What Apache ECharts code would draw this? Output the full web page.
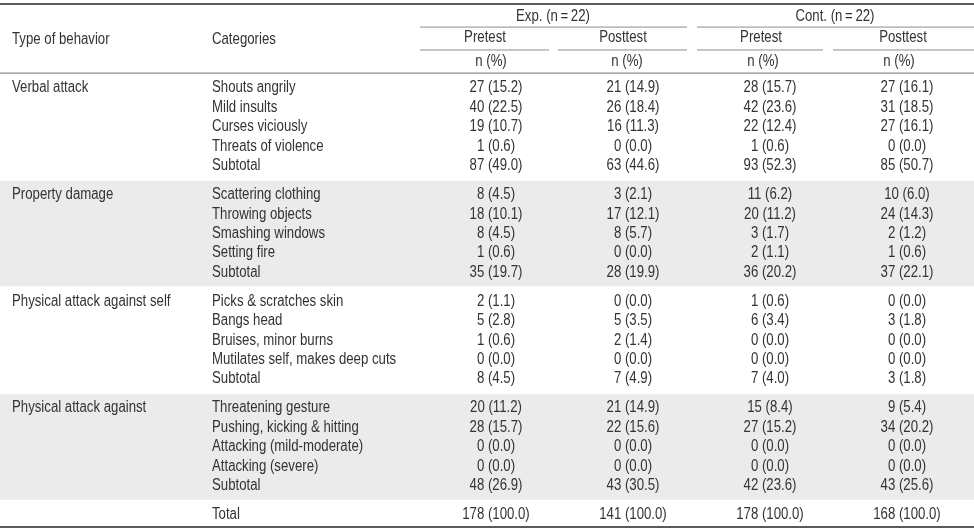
<!DOCTYPE html>
<html>
<head>
<meta charset="utf-8">
<script src="https://cdn.jsdelivr.net/npm/echarts@6/dist/echarts.min.js"></script>
<style>html,body{margin:0;padding:0;background:#fff}#c{width:974px;height:532px}</style>
</head>
<body>
<div id="c"></div>
<script>
// ---------- DATA ----------
const behaviorTypes = ['Verbal attack', 'Property damage', 'Physical attack against self', 'Physical attack against'];
const categories = [
  ['Shouts angrily', 'Mild insults', 'Curses viciously', 'Threats of violence', 'Subtotal'],
  ['Scattering clothing', 'Throwing objects', 'Smashing windows', 'Setting fire', 'Subtotal'],
  ['Picks & scratches skin', 'Bangs head', 'Bruises, minor burns', 'Mutilates self, makes deep cuts', 'Subtotal'],
  ['Threatening gesture', 'Pushing, kicking & hitting', 'Attacking (mild-moderate)', 'Attacking (severe)', 'Subtotal']
];
const totalLabel = 'Total';
const groupHeaders = ['Exp. (n\u2009=\u200922)', 'Cont. (n\u2009=\u200922)'];
const timeHeaders = ['Pretest', 'Posttest', 'Pretest', 'Posttest'];
const unitHeader = 'n (%)';
const colHeaders = ['Type of behavior', 'Categories'];

// rows: 4 sections x 5 rows, then Total
const expPreN   = [27,40,19,1,87,  8,18,8,1,35,  2,5,1,0,8,  20,28,0,0,48, 178];
const expPrePct = [15.2,22.5,10.7,0.6,49.0, 4.5,10.1,4.5,0.6,19.7, 1.1,2.8,0.6,0.0,4.5, 11.2,15.7,0.0,0.0,26.9, 100.0];
const expPostN   = [21,26,16,0,63, 3,17,8,0,28, 0,5,2,0,7, 21,22,0,0,43, 141];
const expPostPct = [14.9,18.4,11.3,0.0,44.6, 2.1,12.1,5.7,0.0,19.9, 0.0,3.5,1.4,0.0,4.9, 14.9,15.6,0.0,0.0,30.5, 100.0];
const contPreN   = [28,42,22,1,93, 11,20,3,2,36, 1,6,0,0,7, 15,27,0,0,42, 178];
const contPrePct = [15.7,23.6,12.4,0.6,52.3, 6.2,11.2,1.7,1.1,20.2, 0.6,3.4,0.0,0.0,4.0, 8.4,15.2,0.0,0.0,23.6, 100.0];
const contPostN   = [27,31,27,0,85, 10,24,2,1,37, 0,3,0,0,3, 9,34,0,0,43, 168];
const contPostPct = [16.1,18.5,16.1,0.0,50.7, 6.0,14.3,1.2,0.6,22.1, 0.0,1.8,0.0,0.0,1.8, 5.4,20.2,0.0,0.0,25.6, 100.0];

// ---------- LAYOUT (axis units) ----------
const X_MAX = 974;
const Y_MIN = -4.536, Y_MAX = 22.887;      // row units
const TYPE_X = 12, CAT_X = 212;
const DATA_X = [496, 633, 770, 907];
const TIME_X = [485, 623, 761, 903];
const UNIT_X = [491, 627, 763, 899];
const GROUP_X = [553, 835];
const SECTION_GAP = 0.5;
const ROWS_PER_SECTION = 5;
const Y_GROUP = -3.66, Y_TIME = -2.58, Y_COLHDR = -2.47, Y_UNIT = -1.34;
const LINE_TOP = -4.33, LINE_GROUP = -3.14, LINE_TIME = -1.96, LINE_HEAD = -0.77, LINE_BOTTOM = 22.63;
const BAND_PAD = 0.72;
const GROUP_SPANS = [[420, 687], [697, 974]];
const TIME_SPANS = [[420, 549], [558, 687], [697, 823], [833, 974]];

const FONT = "16px 'Liberation Sans', Arial, sans-serif";
const TEXT_SCALE_X = 0.825;
const TEXT_COLOR = '#333';

function rowY(sec, r) { return sec * (ROWS_PER_SECTION + SECTION_GAP) + r; }

// ---------- build cells ----------
const cells = []; // [x, y, text, align]
colHeaders.forEach((t, i) => cells.push([i === 0 ? TYPE_X : CAT_X, Y_COLHDR, t, 'left']));
groupHeaders.forEach((t, i) => cells.push([GROUP_X[i], Y_GROUP, t, 'center']));
timeHeaders.forEach((t, i) => cells.push([TIME_X[i], Y_TIME, t, 'center']));
UNIT_X.forEach(x => cells.push([x, Y_UNIT, unitHeader, 'center']));
const cols = [[expPreN, expPrePct], [expPostN, expPostPct], [contPreN, contPrePct], [contPostN, contPostPct]];
let idx = 0;
categories.forEach((cats, s) => {
  cells.push([TYPE_X, rowY(s, 0), behaviorTypes[s], 'left']);
  cats.forEach((c, r) => {
    const y = rowY(s, r);
    cells.push([CAT_X, y, c, 'left']);
    cols.forEach((col, ci) => cells.push([DATA_X[ci], y, col[0][idx] + ' (' + col[1][idx].toFixed(1) + ')', 'center']));
    idx++;
  });
});
const totalY = rowY(categories.length, 0);
cells.push([CAT_X, totalY, totalLabel, 'left']);
cols.forEach((col, ci) => cells.push([DATA_X[ci], totalY, col[0][idx] + ' (' + col[1][idx].toFixed(1) + ')', 'center']));

// lines: [x1, x2, y, width, color]
const lines = [
  [0, X_MAX, LINE_TOP, 2, '#5a5a5a'],
  [0, X_MAX, LINE_HEAD, 1.2, '#8c8c8c'],
  [0, X_MAX, LINE_BOTTOM, 2, '#5a5a5a']
];
GROUP_SPANS.forEach(s => lines.push([s[0], s[1], LINE_GROUP, 1, '#8c8c8c']));
TIME_SPANS.forEach(s => lines.push([s[0], s[1], LINE_TIME, 1, '#8c8c8c']));

// bands for sections 2 and 4
const bands = [1, 3].map(s => [rowY(s, 0) - BAND_PAD, rowY(s, ROWS_PER_SECTION - 1) + BAND_PAD]);

const chart = echarts.init(document.getElementById('c'), null, { renderer: 'canvas' });
chart.setOption({
  animation: false,
  backgroundColor: '#fff',
  grid: { left: 0, right: 0, top: 0, bottom: 0 },
  xAxis: { type: 'value', min: 0, max: X_MAX, show: false },
  yAxis: { type: 'value', min: Y_MIN, max: Y_MAX, inverse: true, show: false },
  series: [
    {
      type: 'custom', silent: true, z: 1,
      data: bands,
      renderItem: (params, api) => {
        const a = api.coord([0, api.value(0)]);
        const b = api.coord([X_MAX, api.value(1)]);
        return { type: 'rect', shape: { x: a[0], y: a[1], width: b[0] - a[0], height: b[1] - a[1] }, style: { fill: '#ebebeb' } };
      }
    },
    {
      type: 'custom', silent: true, z: 2,
      data: lines.map(l => [l[0], l[1], l[2], l[3]]),
      renderItem: (params, api) => {
        const l = lines[params.dataIndex];
        const a = api.coord([l[0], l[2]]);
        const b = api.coord([l[1], l[2]]);
        return { type: 'line', shape: { x1: a[0], y1: a[1], x2: b[0], y2: b[1] }, style: { stroke: l[4], lineWidth: l[3] } };
      }
    },
    {
      type: 'custom', silent: true, z: 3,
      data: cells.map(c => [c[0], c[1]]),
      renderItem: (params, api) => {
        const c = cells[params.dataIndex];
        const p = api.coord([c[0], c[1]]);
        return { type: 'text', x: p[0], y: p[1], scaleX: TEXT_SCALE_X, style: { text: c[2], textAlign: c[3], textVerticalAlign: 'middle', fill: TEXT_COLOR, font: FONT } };
      }
    }
  ]
});
</script>
</body>
</html>
